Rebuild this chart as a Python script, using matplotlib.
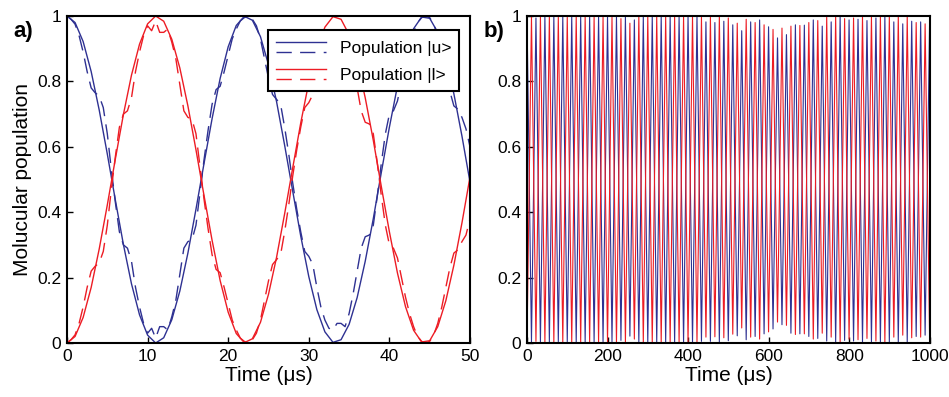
import numpy as np
import matplotlib
matplotlib.use("Agg")
import matplotlib.pyplot as plt
from matplotlib.legend_handler import HandlerBase
from matplotlib.lines import Line2D

plt.rcParams['font.family'] = ['Liberation Sans', 'DejaVu Sans']

BLUE = '#2e3192'
RED = '#ed1c24'

# ---- panel a: short time scale (0..50 us) ----
# solid curves sampled every 1 us
t_solid = np.arange(0, 51, 1)
u_solid = [1.000, 0.980, 0.922, 0.830, 0.712, 0.578, 0.437, 0.301, 0.181, 0.086,
           0.024, 0.000, 0.016, 0.071, 0.159, 0.275, 0.409, 0.549, 0.686, 0.809,
           0.906, 0.971, 0.999, 0.987, 0.937, 0.851, 0.738, 0.605, 0.465, 0.327,
           0.203, 0.102, 0.034, 0.002, 0.010, 0.057, 0.139, 0.250, 0.380, 0.522,
           0.660, 0.786, 0.889, 0.961, 0.997, 0.993, 0.950, 0.871, 0.762, 0.633,
           0.492]
l_solid = [0.000, 0.020, 0.078, 0.170, 0.288, 0.422, 0.563, 0.699, 0.819, 0.914,
           0.976, 1.000, 0.984, 0.929, 0.841, 0.725, 0.591, 0.451, 0.314, 0.191,
           0.094, 0.029, 0.001, 0.013, 0.063, 0.149, 0.262, 0.395, 0.535, 0.673,
           0.797, 0.898, 0.966, 0.998, 0.990, 0.943, 0.861, 0.750, 0.620, 0.478,
           0.340, 0.214, 0.111, 0.039, 0.003, 0.007, 0.050, 0.129, 0.238, 0.367,
           0.508]

# dashed curves sampled every 0.5 us
t_dash = np.arange(0, 50.5, 0.5)
u_dash = [1.00, 0.99, 0.975, 0.94, 0.89, 0.83, 0.78, 0.765, 0.755, 0.72,
          0.64, 0.53, 0.43, 0.34, 0.30, 0.29, 0.25, 0.17, 0.11, 0.06,
          0.03, 0.045, 0.015, 0.05, 0.05, 0.04, 0.08, 0.13, 0.21, 0.29,
          0.31, 0.315, 0.36, 0.46, 0.56, 0.65, 0.73, 0.775, 0.785, 0.83,
          0.88, 0.93, 0.96, 0.985, 0.995, 1.00, 0.99, 0.97, 0.93, 0.87,
          0.81, 0.76, 0.745, 0.73, 0.66, 0.58, 0.49, 0.41, 0.34, 0.28,
          0.265, 0.24, 0.17, 0.11, 0.07, 0.045, 0.04, 0.06, 0.06, 0.05,
          0.09, 0.15, 0.22, 0.29, 0.325, 0.33, 0.36, 0.45, 0.55, 0.64,
          0.70, 0.71, 0.74, 0.80, 0.86, 0.91, 0.95, 0.98, 0.995, 1.00,
          0.995, 0.975, 0.94, 0.89, 0.83, 0.77, 0.725, 0.715, 0.69, 0.655,
          0.60]
l_dash = [0.00, 0.01, 0.025, 0.06, 0.11, 0.17, 0.22, 0.235, 0.245, 0.28,
          0.36, 0.47, 0.57, 0.66, 0.70, 0.71, 0.75, 0.83, 0.89, 0.94,
          0.97, 0.955, 0.985, 0.95, 0.95, 0.96, 0.92, 0.87, 0.79, 0.71,
          0.69, 0.685, 0.64, 0.54, 0.44, 0.35, 0.27, 0.225, 0.215, 0.17,
          0.12, 0.07, 0.04, 0.015, 0.005, 0.00, 0.01, 0.03, 0.07, 0.13,
          0.19, 0.24, 0.255, 0.27, 0.34, 0.42, 0.51, 0.59, 0.66, 0.72,
          0.735, 0.76, 0.83, 0.89, 0.93, 0.955, 0.96, 0.94, 0.94, 0.95,
          0.91, 0.85, 0.78, 0.71, 0.675, 0.67, 0.64, 0.55, 0.45, 0.36,
          0.30, 0.29, 0.26, 0.20, 0.14, 0.09, 0.05, 0.02, 0.005, 0.00,
          0.005, 0.025, 0.06, 0.11, 0.17, 0.23, 0.275, 0.285, 0.31, 0.33,
          0.38]

# ---- panel b: long time scale (0..1000 us) ----
# extremes every half Rabi period (11.1 us); even index = |u> max, odd = |l> max
b_half_period = 11.1
b_peaks = [1.000, 0.998, 0.994, 0.998, 0.998, 0.998, 0.998, 0.996, 0.998, 0.996,
           0.998, 0.998, 0.998, 0.998, 0.998, 0.996, 0.998, 0.996, 0.998, 0.996,
           0.998, 0.992, 0.998, 0.978, 0.988, 0.998, 0.998, 0.998, 0.998, 0.998,
           0.998, 0.998, 0.998, 0.998, 0.998, 0.998, 0.998, 0.998, 0.998, 0.996,
           0.982, 0.996, 0.980, 0.998, 0.984, 0.994, 0.973, 0.978, 0.955, 0.990,
           0.982, 0.980, 0.988, 0.973, 0.967, 0.959, 0.933, 0.963, 0.943, 0.969,
           0.973, 0.971, 0.972, 0.980, 0.988, 0.986, 0.969, 0.996, 0.982, 0.998,
           0.998, 0.992, 0.988, 0.994, 0.990, 0.998, 0.986, 0.998, 0.994, 0.998,
           0.998, 0.998, 0.982, 0.998, 0.976, 0.998, 0.984, 0.980, 0.982, 0.976,
           0.980]
b_troughs = [0.000, 0.003, 0.005, 0.003, 0.002, 0.003, 0.002, 0.004, 0.002, 0.004,
             0.002, 0.002, 0.002, 0.002, 0.002, 0.004, 0.002, 0.004, 0.002, 0.004,
             0.002, 0.008, 0.003, 0.021, 0.012, 0.003, 0.002, 0.002, 0.002, 0.002,
             0.002, 0.002, 0.002, 0.002, 0.002, 0.002, 0.002, 0.002, 0.002, 0.005,
             0.018, 0.005, 0.019, 0.003, 0.016, 0.007, 0.027, 0.022, 0.046, 0.010,
             0.018, 0.020, 0.012, 0.028, 0.034, 0.043, 0.064, 0.056, 0.054, 0.030,
             0.026, 0.028, 0.028, 0.020, 0.012, 0.014, 0.030, 0.006, 0.018, 0.003,
             0.003, 0.008, 0.012, 0.006, 0.010, 0.003, 0.014, 0.004, 0.006, 0.003,
             0.003, 0.003, 0.018, 0.003, 0.024, 0.003, 0.016, 0.020, 0.018, 0.024,
             0.020]

t_b = np.arange(len(b_peaks)) * b_half_period
even = np.arange(len(b_peaks)) % 2 == 0
u_b = np.where(even, b_peaks, b_troughs)
l_b = np.where(even, b_troughs, b_peaks)

y_ticks = [0, 0.2, 0.4, 0.6, 0.8, 1]
y_ticklabels = ['0', '0.2', '0.4', '0.6', '0.8', '1']


class StackedHandler(HandlerBase):
    # solid line on top, dashed line below, one label
    def create_artists(self, legend, orig_handle, xdescent, ydescent,
                       width, height, fontsize, trans):
        color = orig_handle
        mid = height / 2 - ydescent
        top = Line2D([-xdescent, width - xdescent], [mid + 3.6, mid + 3.6],
                     color=color, lw=1.0)
        bot = Line2D([-xdescent, width - xdescent], [mid - 3.6, mid - 3.6],
                     color=color, lw=1.0, dashes=(11, 6))
        top.set_transform(trans)
        bot.set_transform(trans)
        return [top, bot]


def style_axes(ax):
    for s in ax.spines.values():
        s.set_linewidth(1.5)
    ax.tick_params(direction='in', length=4, width=1, labelsize=12.5, pad=4)
    ax.set_ylim(0, 1)
    ax.set_yticks(y_ticks)
    ax.set_yticklabels(y_ticklabels)


fig = plt.figure(figsize=(9.49, 3.97), dpi=100)
ax1 = fig.add_axes([67 / 949, 54 / 397, 403 / 949, 327 / 397])
ax2 = fig.add_axes([527 / 949, 54 / 397, 403 / 949, 327 / 397])

ax1.plot(t_solid, u_solid, color=BLUE, lw=1.0)
ax1.plot(t_dash, u_dash, color=BLUE, lw=1.0, dashes=(11, 6))
ax1.plot(t_solid, l_solid, color=RED, lw=1.0)
ax1.plot(t_dash, l_dash, color=RED, lw=1.0, dashes=(11, 6))
ax1.set_xlim(0, 50)
ax1.set_xticks([0, 10, 20, 30, 40, 50])
style_axes(ax1)
ax1.set_xlabel('Time (μs)', fontsize=15, labelpad=2)
ax1.set_ylabel('Molucular population', fontsize=15, labelpad=4)

leg = ax1.legend([BLUE, RED], ['Population |u>', 'Population |l>'],
                 handler_map={str: StackedHandler()},
                 loc='upper right', bbox_to_anchor=(0.973, 0.957),
                 borderaxespad=0, fontsize=12.5, handlelength=2.9,
                 handleheight=1.3, labelspacing=0.45, borderpad=0.45,
                 fancybox=False, framealpha=1, edgecolor='black')
leg.get_frame().set_linewidth(1.5)

ax2.plot(t_b, u_b, color=BLUE, lw=0.8)
ax2.plot(t_b, l_b, color=RED, lw=0.8)
ax2.set_xlim(0, 1000)
ax2.set_xticks([0, 200, 400, 600, 800, 1000])
style_axes(ax2)
ax2.set_xlabel('Time (μs)', fontsize=15, labelpad=2)

fig.text(13 / 949, 1 - 32 / 397, 'a)', fontsize=16, fontweight='bold', va='center')
fig.text(484 / 949, 1 - 32 / 397, 'b)', fontsize=16, fontweight='bold', va='center')

fig.savefig('out.png', dpi=100)
